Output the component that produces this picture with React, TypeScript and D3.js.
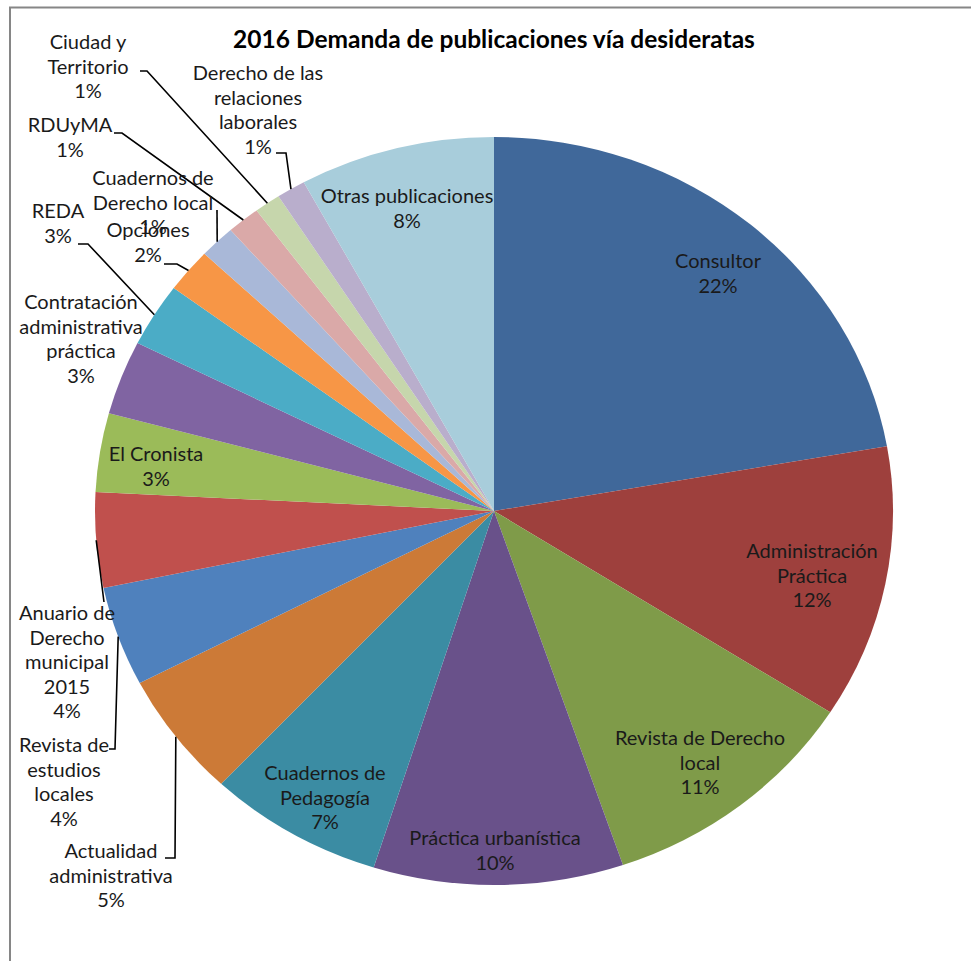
import React from "react";
import * as d3 from "d3";

// ---- data ----
const categories = [
  "Consultor",
  "Administración Práctica",
  "Revista de Derecho local",
  "Práctica urbanística",
  "Cuadernos de Pedagogía",
  "Actualidad administrativa",
  "Revista de estudios locales",
  "Anuario de Derecho municipal 2015",
  "El Cronista",
  "Contratación administrativa práctica",
  "REDA",
  "Opciones",
  "Cuadernos de Derecho local",
  "RDUyMA",
  "Ciudad y Territorio",
  "Derecho de las relaciones laborales",
  "Otras publicaciones",
];
const values = [22.2, 11.8, 10.7, 10.1, 7.1, 5.4, 4.3, 4.1, 3.4, 3.2, 2.75, 1.9, 1.45, 1.33, 1.06, 1.17, 7.9];
const labelLines = [
  ["Consultor"],
  ["Administración", "Práctica"],
  ["Revista de Derecho", "local"],
  ["Práctica urbanística"],
  ["Cuadernos de", "Pedagogía"],
  ["Actualidad", "administrativa"],
  ["Revista de", "estudios", "locales"],
  ["Anuario de", "Derecho", "municipal", "2015"],
  ["El Cronista"],
  ["Contratación", "administrativa", "práctica"],
  ["REDA"],
  ["Opciones"],
  ["Cuadernos de", "Derecho local"],
  ["RDUyMA"],
  ["Ciudad y", "Territorio"],
  ["Derecho de las", "relaciones", "laborales"],
  ["Otras publicaciones"],
];
const colors = [
  "#40689A", "#9E403D", "#7F9B49", "#69518A", "#3B8CA3", "#CC7A37",
  "#4F81BD", "#C0504D", "#9BBB59", "#8064A2", "#4BACC6", "#F79646",
  "#A9B8D8", "#DAA9A8", "#C6D6AC", "#B9AECC", "#A8CDDB",
];
const title = "2016 Demanda de publicaciones vía desideratas";

// ---- layout ----
const W = 971, H = 961;
const cx = 494, cy = 511, ry = 374, rx = 399;
const sx = rx / ry;
const LH = 24.5;
const FONT = "Lato, 'Open Sans', sans-serif";

// label anchor: center x, first baseline y; optional leader [start, knee]
const labelPos: Record<string, { x: number; y: number; lead?: [number, number][] }> = {
  "Consultor": { x: 718, y: 268 },
  "Administración Práctica": { x: 812, y: 558 },
  "Revista de Derecho local": { x: 700, y: 745 },
  "Práctica urbanística": { x: 495, y: 845 },
  "Cuadernos de Pedagogía": { x: 325, y: 780 },
  "Actualidad administrativa": { x: 111, y: 858, lead: [[165, 858], [175, 858]] },
  "Revista de estudios locales": { x: 64, y: 752, lead: [[109, 749], [115, 749]] },
  "Anuario de Derecho municipal 2015": { x: 67, y: 620, lead: [[104, 602]] },
  "El Cronista": { x: 156, y: 461 },
  "Contratación administrativa práctica": { x: 81, y: 309 },
  "REDA": { x: 58, y: 218, lead: [[78, 244], [88, 244]] },
  "Opciones": { x: 148, y: 237, lead: [[164, 264], [177, 264]] },
  "Cuadernos de Derecho local": { x: 153, y: 185, lead: [[217, 210]] },
  "RDUyMA": { x: 70, y: 132, lead: [[114, 133], [122, 133]] },
  "Ciudad y Territorio": { x: 88, y: 49, lead: [[140, 71], [147, 71]] },
  "Derecho de las relaciones laborales": { x: 258, y: 80, lead: [[276, 153], [286, 153]] },
  "Otras publicaciones": { x: 407, y: 203 },
};

export default function App() {
  const total = d3.sum(values);
  const pie = d3.pie<number>().sort(null).value((d) => d);
  const arcs = pie(values);
  const arc = d3.arc<d3.PieArcDatum<number>>().innerRadius(0).outerRadius(ry);

  return (
    <svg
      width={W}
      height={H}
      style={{ position: "absolute", left: 0, top: 0, background: "#fff" }}
      fontFamily={FONT}
    >
      <rect x={0} y={0} width={W} height={H} fill="#fff" />
      <path d={`M10,${H} V7.5 H${W}`} fill="none" stroke="#868686" strokeWidth={2} />
      <text x={494} y={48} textAnchor="middle" fontSize={24.5} fontWeight="bold" fill="#000">
        {title}
      </text>
      <g transform={`translate(${cx},${cy}) scale(${sx},1)`}>
        {arcs.map((a, i) => (
          <path key={i} d={arc(a) || ""} fill={colors[i]} />
        ))}
      </g>
      {arcs.map((a, i) => {
        const name = categories[i];
        const pos = labelPos[name];
        if (!pos || !pos.lead) return null;
        const mid = (a.startAngle + a.endAngle) / 2;
        const ex = cx + Math.sin(mid) * rx;
        const ey = cy - Math.cos(mid) * ry;
        const pts = [...pos.lead, [ex, ey]];
        return (
          <polyline
            key={"l" + i}
            points={pts.map((p) => p.join(",")).join(" ")}
            fill="none"
            stroke="#000"
            strokeWidth={1.6}
          />
        );
      })}
      {arcs.map((a, i) => {
        const name = categories[i];
        const pos = labelPos[name];
        const pct = Math.round((values[i] / total) * 100) + "%";
        const lines = [...labelLines[i], pct];
        return (
          <text key={"t" + i} textAnchor="middle" fontSize={20} fill="#1a1a1a">
            {lines.map((ln, j) => (
              <tspan key={j} x={pos.x} y={pos.y + j * LH}>
                {ln}
              </tspan>
            ))}
          </text>
        );
      })}
    </svg>
  );
}
